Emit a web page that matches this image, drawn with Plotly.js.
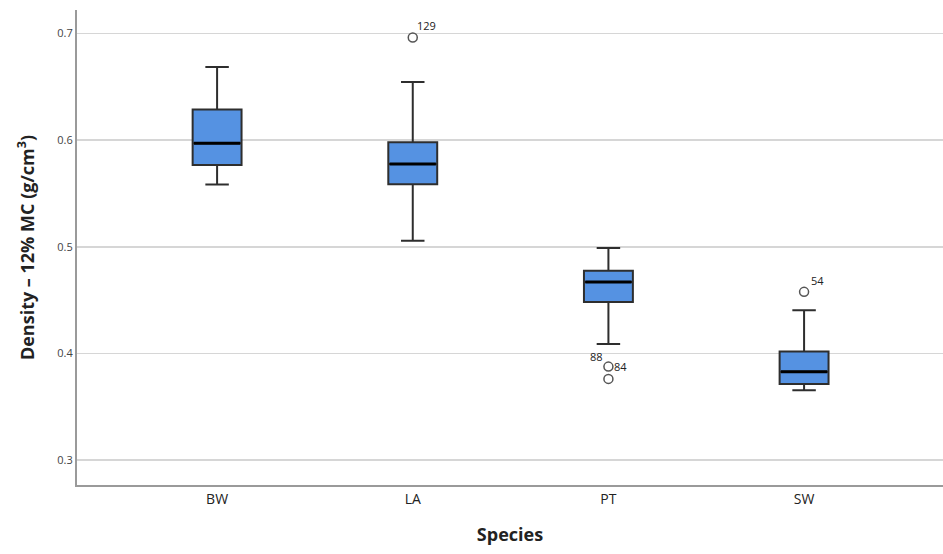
<!DOCTYPE html>
<html>
<head>
<meta charset="utf-8">
<script src="https://cdn.plot.ly/plotly-3.0.1.min.js"></script>
<style>html,body{margin:0;padding:0;background:#fff}#chart{width:943px;height:554px}</style>
</head>
<body>
<div id="chart"></div>
<script>
// Data
const species = ['BW', 'LA', 'PT', 'SW'];
const q1 = [0.5766, 0.5587, 0.4481, 0.3714];
const median = [0.5970, 0.5775, 0.4669, 0.3829];
const q3 = [0.6287, 0.5980, 0.4775, 0.4017];
const lowerWhisker = [0.5583, 0.5057, 0.4087, 0.3655];
const upperWhisker = [0.6686, 0.6545, 0.4988, 0.4405];

const outlierSpecies = ['LA', 'PT', 'PT', 'SW'];
const outlierValues = [0.6962, 0.3876, 0.3761, 0.4577];
const outlierIds = ['129', '84', '88', '54'];

const yTickVals = [0.3, 0.4, 0.5, 0.6, 0.7];

// label offsets (pixels) relative to each outlier marker
const labelDx = [14, 12, -12, 13];
const labelDy = [12, 0, 22, 11];

const font = 'Open Sans, Noto Sans, Liberation Sans, sans-serif';

const traces = [
  {
    type: 'box',
    x: species,
    q1: q1,
    median: median,
    q3: q3,
    lowerfence: lowerWhisker,
    upperfence: upperWhisker,
    width: 0.25,
    whiskerwidth: 0.48,
    fillcolor: '#5592e2',
    line: {color: '#2e2e2e', width: 2},
    boxpoints: false,
    hoverinfo: 'skip',
    showlegend: false
  },
  {
    type: 'scatter',
    mode: 'markers',
    x: species,
    y: median,
    marker: {symbol: 'line-ew', size: 33, line: {color: '#000000', width: 3}},
    hoverinfo: 'skip',
    showlegend: false
  },
  {
    type: 'scatter',
    mode: 'markers',
    x: outlierSpecies,
    y: outlierValues,
    marker: {symbol: 'circle-open', size: 9, color: '#555555', line: {width: 1.5, color: '#555555'}},
    hoverinfo: 'skip',
    showlegend: false
  }
];

const annotations = outlierIds.map((id, i) => ({
  x: outlierSpecies[i],
  y: outlierValues[i],
  xref: 'x', yref: 'y',
  text: id,
  showarrow: false,
  xshift: labelDx[i],
  yshift: labelDy[i],
  font: {family: font, size: 11, color: '#222222'}
}));

const layout = {
  width: 943,
  height: 554,
  margin: {l: 77, r: 0, t: 10, b: 69},
  paper_bgcolor: '#ffffff',
  plot_bgcolor: '#ffffff',
  showlegend: false,
  annotations: annotations,
  xaxis: {
    type: 'category',
    categoryorder: 'array',
    categoryarray: species,
    range: [-0.716, 3.71],
    showgrid: false,
    zeroline: false,
    showline: true,
    linecolor: '#9a9a9a',
    linewidth: 2,
    ticks: '',
    tickfont: {family: font, size: 14, color: '#222222'},
    title: {text: '<b>Species</b>', font: {family: font, size: 18, color: '#222222'}, standoff: 22}
  },
  yaxis: {
    range: [0.2766, 0.722],
    tickvals: yTickVals,
    ticktext: yTickVals.map(v => v.toFixed(1)),
    showgrid: true,
    gridcolor: '#d6d6d6',
    gridwidth: 1.5,
    zeroline: false,
    showline: true,
    linecolor: '#9a9a9a',
    linewidth: 2,
    ticks: '',
    ticklen: 0,
    tickfont: {family: font, size: 11, color: '#444444'},
    title: {text: '<b>Density – 12% MC (g/cm<sup>3</sup>)</b>', font: {family: font, size: 18, color: '#222222'}, standoff: 18}
  }
};

Plotly.newPlot('chart', traces, layout, {displayModeBar: false, staticPlot: true});
</script>
</body>
</html>
